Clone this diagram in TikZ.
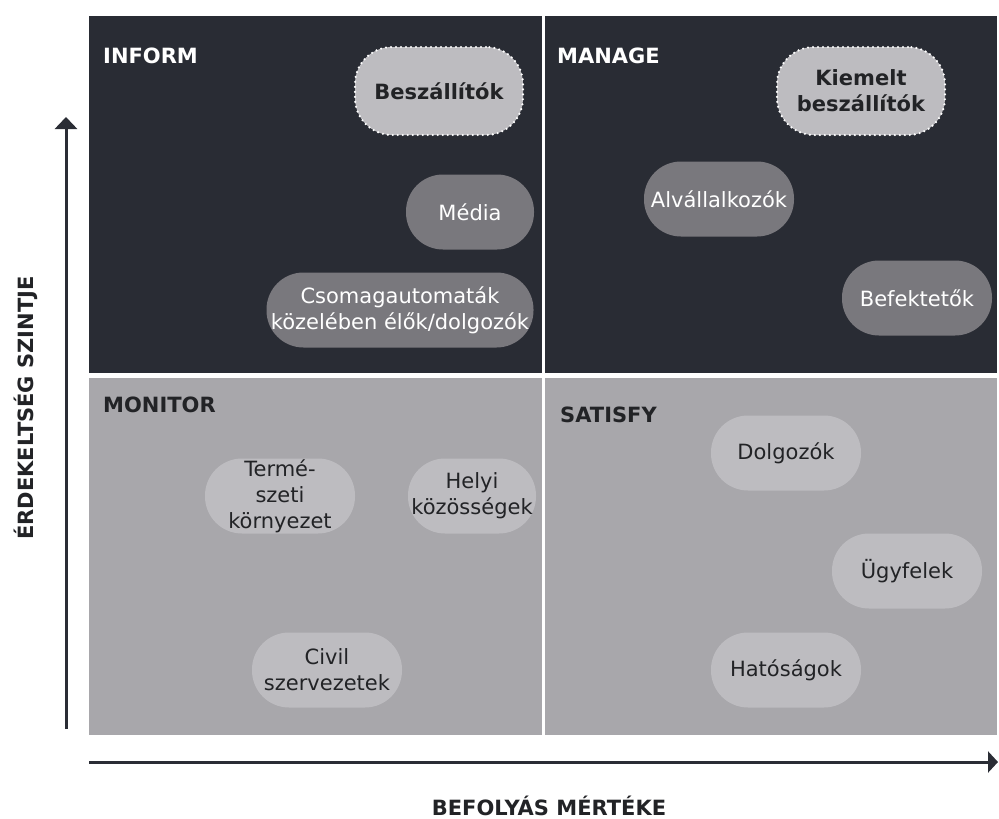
\documentclass[tikz,border=0pt]{standalone}
\usepackage{fontspec}
\setmainfont{DejaVu Sans}
\usepackage{tikz}
\usetikzlibrary{arrows.meta, positioning}
\usepackage{xcolor}

\definecolor{quaddark}{HTML}{292C34}
\definecolor{quadlight}{HTML}{A8A7AB}
\definecolor{pilllight}{HTML}{BDBCC0}
\definecolor{pillmid}{HTML}{79787D}
\definecolor{inkdark}{HTML}{222326}
\definecolor{axisdark}{HTML}{2A2D35}

\tikzset{
    quad/.style={rectangle, inner sep=0pt, anchor=north west, minimum width=453pt, minimum height=357pt},
    quadtitle/.style={anchor=base west, inner sep=0pt, font=\bfseries\fontsize{21}{26}\selectfont},
    pill/.style={rectangle, rounded corners=37pt, inner sep=0pt, align=center, minimum width=150pt, minimum height=75pt, font=\fontsize{21}{26}\selectfont},
    midpill/.style={pill, fill=pillmid, text=white},
    lightpill/.style={pill, fill=pilllight, text=inkdark},
    keypill/.style={lightpill, minimum width=168pt, minimum height=88pt, draw=white, line width=2.4pt, line cap=round, dash pattern=on 0pt off 5pt, font=\bfseries\fontsize{21}{26}\selectfont},
    axislabel/.style={anchor=base, inner sep=0pt, text=inkdark, font=\bfseries\fontsize{21}{25}\selectfont}
}

\begin{document}
\begin{tikzpicture}[x=1pt, y=-1pt]
    \useasboundingbox (0,0) rectangle (999,819);

    % Four quadrants of the matrix
    \node[quad, fill=quaddark] (inform) at (89,16) {};
    \node[quad, fill=quaddark, minimum width=452pt] (manage) at (545,16) {};
    \node[quad, fill=quadlight] (monitor) at (89,378) {};
    \node[quad, fill=quadlight, minimum width=452pt] (satisfy) at (545,378) {};

    % Quadrant titles
    \node[quadtitle, text=white] (informtitle) at (103,63) {INFORM};
    \node[quadtitle, text=white] (managetitle) at (557,63) {MANAGE};
    \node[quadtitle, text=inkdark] (monitortitle) at (103,412) {MONITOR};
    \node[quadtitle, text=inkdark] (satisfytitle) at (560,422) {SATISFY};

    % INFORM stakeholders
    \node[keypill] (beszallitok) at (439,91) {Beszállítók};
    \node[midpill, minimum width=128pt] (media) at (470,212) {Média};
    \node[midpill, minimum width=267pt] (csomag) at (400,310) {Csomagautomaták\\közelében élők/dolgozók};

    % MANAGE stakeholders
    \node[keypill] (kiemelt) at (861,91) {Kiemelt\\beszállítók};
    \node[midpill] (alvall) at (719,199) {Alvállalkozók};
    \node[midpill] (befekteto) at (917,298) {Befektetők};

    % MONITOR stakeholders
    \node[lightpill, inner ysep=-5pt] (termeszet) at (280,496) {Termé-\\szeti\\környezet};
    \node[lightpill, minimum width=128pt] (helyi) at (472,496) {Helyi\\közösségek};
    \node[lightpill] (civil) at (327,670) {Civil\\szervezetek};

    % SATISFY stakeholders
    \node[lightpill] (dolgozok) at (786,453) {Dolgozók};
    \node[lightpill] (ugyfelek) at (907,571) {Ügyfelek};
    \node[lightpill] (hatosag) at (786,670) {Hatóságok};

    % Axes with their labels
    \coordinate (xstart) at (89,762);
    \coordinate (xend) at (998,762);
    \coordinate (ystart) at (66,729);
    \coordinate (yend) at (66,117);
    \draw[-{Triangle[length=10pt, width=21pt]}, line width=3pt, axisdark] (xstart) -- (xend);
    \draw[-{Triangle[length=12pt, width=22pt]}, line width=3pt, axisdark] (ystart) -- (yend);
    \node[axislabel] (xlabel) at (549,815) {BEFOLYÁS MÉRTÉKE};
    \node[axislabel, rotate=90] (ylabel) at (33,408) {ÉRDEKELTSÉG SZINTJE};
\end{tikzpicture}
\end{document}
